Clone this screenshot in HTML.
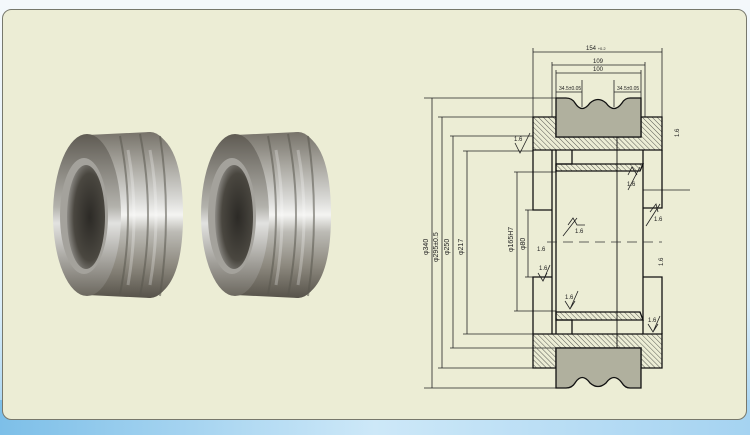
<!DOCTYPE html>
<html><head><meta charset="utf-8"><style>
html,body{margin:0;padding:0;width:750px;height:435px;overflow:hidden;font-family:"Liberation Sans",sans-serif}
body{background:linear-gradient(180deg,#f4f8fb 0%,#dbeefa 70%,#9fd0f0 100%)}
</style></head><body>
<svg width="750" height="435" viewBox="0 0 750 435" xmlns="http://www.w3.org/2000/svg" style="position:absolute;left:0;top:0">
<defs>
<linearGradient id="bg" x1="0" y1="0" x2="1" y2="0"><stop offset="0" stop-color="#7dbfe8"/><stop offset=".5" stop-color="#cde8f8"/><stop offset="1" stop-color="#a5d3f1"/></linearGradient>
<linearGradient id="body" x1="0" y1="0" x2="0" y2="1"><stop offset="0" stop-color="#77736a"/><stop offset=".2" stop-color="#a9a7a0"/><stop offset=".4" stop-color="#d8d8d5"/><stop offset=".5" stop-color="#f4f4f2"/><stop offset=".6" stop-color="#bdbcb6"/><stop offset=".8" stop-color="#8e8a80"/><stop offset="1" stop-color="#57534a"/></linearGradient>
<linearGradient id="face" x1="0" y1="0" x2="0" y2="1"><stop offset="0" stop-color="#5f5b53"/><stop offset=".45" stop-color="#b3b2ac"/><stop offset=".55" stop-color="#e2e2e0"/><stop offset="1" stop-color="#6c685f"/></linearGradient>
<radialGradient id="bore" cx=".6" cy=".5" r=".6"><stop offset="0" stop-color="#2c2a26"/><stop offset=".7" stop-color="#4a4740"/><stop offset="1" stop-color="#8d8b86"/></radialGradient>
<pattern id="h" width="3.5" height="3.5" patternUnits="userSpaceOnUse" patternTransform="rotate(-45)"><line x1="0" y1="0" x2="0" y2="3.5" stroke="#333" stroke-width="0.8"/></pattern>
<g id="ring">
<path d="M87 135 L150 132 Q183 140 183 215 Q183 290 150 298 L87 295 Z" fill="url(#body)"/>
<ellipse cx="150" cy="215" rx="33" ry="83" fill="url(#body)"/>
<path d="M120 136 Q136 215 120 294 M140 134 Q156 215 140 296 M160 136 Q172 215 160 296" stroke="#5a574f" stroke-width="2" fill="none" opacity=".55"/>
<path d="M128 150 Q140 215 128 285 M150 150 Q162 215 150 285" stroke="#ffffff" stroke-width="3" fill="none" opacity=".25"/>
<ellipse cx="87" cy="215" rx="34" ry="81" fill="url(#face)"/>
<ellipse cx="84" cy="216" rx="24" ry="58" fill="#a4a29c"/>
<ellipse cx="86" cy="217" rx="19" ry="52" fill="url(#bore)"/>
</g>
</defs>
<rect x="0" y="400" width="750" height="35" fill="url(#bg)"/>
<rect x="2.5" y="9.5" width="744" height="410" rx="9" fill="#ecedd5" stroke="#77786c" stroke-width="1"/>
<use href="#ring"/>
<use href="#ring" x="148"/>
<g stroke="#222" stroke-width="0.8" fill="none">
<line x1="533" y1="48" x2="533" y2="150"/><line x1="662" y1="48" x2="662" y2="118"/>
<line x1="533" y1="52" x2="662" y2="52"/>
<line x1="552" y1="62" x2="552" y2="117"/><line x1="645" y1="62" x2="645" y2="117"/>
<line x1="552" y1="65" x2="645" y2="65"/>
<line x1="556" y1="70" x2="556" y2="98"/><line x1="641" y1="70" x2="641" y2="98"/>
<line x1="556" y1="73" x2="641" y2="73"/>
<line x1="556" y1="92" x2="582" y2="92"/><line x1="582" y1="80" x2="582" y2="107"/>
<line x1="614" y1="92" x2="641" y2="92"/><line x1="614" y1="80" x2="614" y2="107"/>
<line x1="424" y1="98" x2="556" y2="98"/><line x1="424" y1="388" x2="556" y2="388"/><line x1="432" y1="98" x2="432" y2="388"/>
<line x1="438" y1="117" x2="533" y2="117"/><line x1="438" y1="368" x2="533" y2="368"/><line x1="442" y1="117" x2="442" y2="368"/>
<line x1="450" y1="136" x2="533" y2="136"/><line x1="450" y1="348" x2="556" y2="348"/><line x1="453" y1="136" x2="453" y2="348"/>
<line x1="463" y1="151" x2="533" y2="151"/><line x1="463" y1="334" x2="533" y2="334"/><line x1="467" y1="151" x2="467" y2="334"/>
<line x1="514" y1="172" x2="556" y2="172"/><line x1="514" y1="311" x2="556" y2="311"/><line x1="517" y1="172" x2="517" y2="311"/>
<line x1="525" y1="210" x2="533" y2="210"/><line x1="525" y1="277" x2="533" y2="277"/><line x1="528" y1="210" x2="528" y2="277"/>
<line x1="643" y1="190" x2="690" y2="190"/>
</g>
<g stroke="#111" stroke-width="1.3">
<path d="M533 117 H556 V137 H641 V117 H662 V150 H533 Z" fill="url(#h)"/>
<path d="M533 334 H662 V368 H641 V348 H556 V368 H533 Z" fill="url(#h)"/>
<path d="M556 164 H643 L640 171 H556 Z" fill="url(#h)"/>
<path d="M556 312 H640 L643 320 H556 Z" fill="url(#h)"/>
<path d="M556 98 H566 Q572 98 575 103 Q582 114 590 103 Q598 96 606 103 Q614 114 622 103 Q625 98 630 98 H641 V137 H556 Z" fill="#b0b09e"/>
<path d="M556 388 H566 Q572 388 575 383 Q582 372 590 383 Q598 390 606 383 Q614 372 622 383 Q625 388 630 388 H641 V348 H556 Z" fill="#b0b09e"/>
<g fill="none">
<path d="M533 150 V210 H552 M533 334 V277 H552"/>
<path d="M552 150 V334"/><path d="M643 150 V334"/>
<path d="M662 150 V208 H643 M662 334 V277 H643"/>
<path d="M556 150 V171 M556 312 V334 M556 164 H572 V150 M556 320 H572 V334"/>
<path d="M556 171 V312"/>
<line x1="617" y1="137" x2="617" y2="348" stroke-width="0.9"/>
</g>
</g>
<line x1="547" y1="242" x2="662" y2="242" stroke="#333" stroke-width="0.8" stroke-dasharray="10 6"/>
<g font-size="6" fill="#222">
<text x="586" y="50">154 <tspan font-size="4">+0.2</tspan></text>
<text x="593" y="63">109</text><text x="593" y="71">100</text>
<text x="559" y="90" font-size="5">34.5±0.05</text><text x="617" y="90" font-size="5">34.5±0.05</text>
<g font-size="7">
<text transform="translate(428,255) rotate(-90)">φ340</text>
<text transform="translate(438,262) rotate(-90)">φ295±0.5</text>
<text transform="translate(449,255) rotate(-90)">φ250</text>
<text transform="translate(463,255) rotate(-90)">φ217</text>
<text transform="translate(513,252) rotate(-90)">φ165H7</text>
<text transform="translate(525,250) rotate(-90)">φ80</text>
</g>
<text x="514" y="141">1.6</text><text x="627" y="186">1.6</text><text x="654" y="221">1.6</text>
<text x="575" y="233">1.6</text><text x="537" y="251">1.6</text><text x="539" y="270">1.6</text>
<text x="565" y="299">1.6</text><text x="648" y="322">1.6</text>
<text transform="translate(679,137) rotate(-90)">1.6</text><text transform="translate(663,266) rotate(-90)">1.6</text>
</g>
<g stroke="#222" stroke-width="0.8" fill="none">
<path d="M515 143 L520 153 L525 143 M520 153 L530 133"/>
<path d="M628 175 L632 167 L637 175 M628 190 L640 167"/>
<path d="M650 212 L656 204 L658 212 M646 226 L660 204"/>
<path d="M568 225 L573 218 L577 225 H585 M563 236 L577 218"/>
<path d="M538 273 L543 281 L547 273 M543 281 L550 265"/>
<path d="M565 301 L570 309 L575 301 M570 309 L578 291"/>
<path d="M648 324 L653 332 L658 324 M653 332 L660 316"/>
</g>
</svg>
</body></html>
